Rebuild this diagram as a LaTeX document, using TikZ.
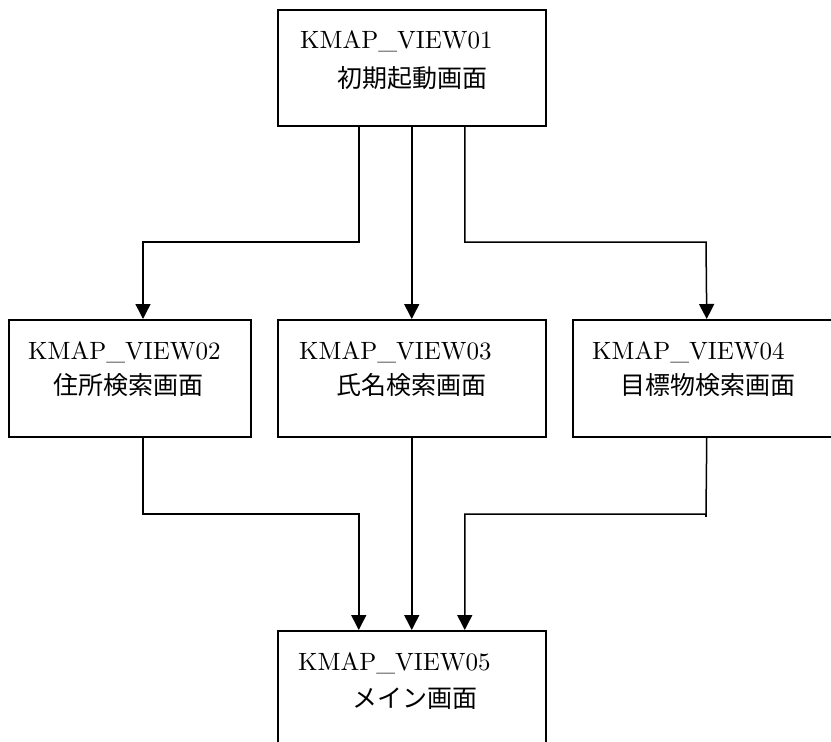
\documentclass[tikz,border=0pt]{standalone}
\usepackage{fontspec}
\newfontfamily\jpfont{Noto Sans CJK JP}
\newfontfamily\idfont{lmroman10-regular}[Extension=.otf]
\usetikzlibrary{arrows.meta}
\usetikzlibrary{calc}

\begin{document}
\begin{tikzpicture}[x=1pt, y=-1pt,
    scrbox/.style={draw, line width=1.5pt, inner sep=0pt, anchor=north west, minimum width=268pt, minimum height=117pt},
    idtext/.style={anchor=base west, inner sep=0pt, font=\idfont\fontsize{25}{30}\selectfont},
    jptext/.style={anchor=base west, inner sep=0pt, font=\jpfont\fontsize{25}{30}\selectfont},
    conn/.style={line width=1.5pt},
    arr/.style={conn, -{Triangle[length=15pt, width=15pt]}}]
      \useasboundingbox (0,0) rectangle (831,742);
      \clip (0,0) rectangle (831,742);

      \node[scrbox, minimum height=116pt] (v01) at (277,9) {};
      \node[scrbox, minimum width=242pt] (v02) at (8,319) {};
      \node[scrbox] (v03) at (277,319) {};
      \node[scrbox] (v04) at (572,319) {};
      \node[scrbox, minimum height=140pt] (v05) at (277,630) {};

      \node[idtext] (v01id) at ($(v01.north west)+(23,39)$) {KMAP\_VIEW01};
      \node[jptext] (v01name) at ($(v01.north west)+(60,78)$) {初期起動画面};
      \node[idtext] (v02id) at ($(v02.north west)+(20,40)$) {KMAP\_VIEW02};
      \node[jptext] (v02name) at ($(v02.north west)+(45,75)$) {住所検索画面};
      \node[idtext] (v03id) at ($(v03.north west)+(22,40)$) {KMAP\_VIEW03};
      \node[jptext] (v03name) at ($(v03.north west)+(59,75)$) {氏名検索画面};
      \node[idtext] (v04id) at ($(v04.north west)+(20,40)$) {KMAP\_VIEW04};
      \node[jptext] (v04name) at ($(v04.north west)+(48,75)$) {目標物検索画面};
      \node[idtext] (v05id) at ($(v05.north west)+(21,40)$) {KMAP\_VIEW05};
      \node[jptext] (v05name) at ($(v05.north west)+(75,77)$) {メイン画面};

      % top screen to the three search screens
      \coordinate (t2) at ($(v01.south)+(-53,0)$);
      \coordinate (t4) at ($(v01.south)+(53,0)$);
      \coordinate (b2) at (143,242);
      \coordinate (b4) at (706,242);
      \draw[arr] (t2) |- (b2) -- (b2 |- v02.north);
      \draw[arr] (v01.south) -- (v03.north);
      \draw[arr] (t4) |- (b4) -- (v04.north);

      % search screens to the main screen
      \coordinate (m2) at (v02.south -| b2);
      \coordinate (j2) at (143,514);
      \coordinate (j4) at (706,514);
      \coordinate (m5a) at ($(v05.north)+(-53,0)$);
      \coordinate (m5c) at ($(v05.north)+(53,0)$);
      \draw[arr] (m2) -- (j2) -| (m5a);
      \draw[arr] (v03.south) -- (v05.north);
      \draw[arr] (v04.south) -- (j4) -| (m5c);
      \draw[conn] (j4) -- ++(0,3);
    \end{tikzpicture}
\end{document}
